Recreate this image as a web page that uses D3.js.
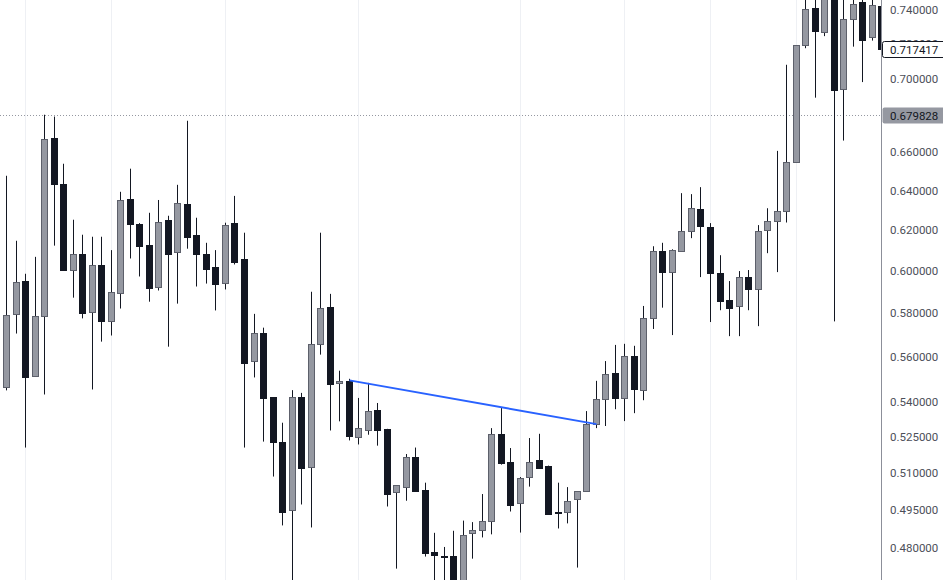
<!DOCTYPE html>
<html>
<head>
<meta charset="utf-8">
<script src="https://cdn.jsdelivr.net/npm/d3@7"></script>
<style>
  html, body { margin: 0; padding: 0; background: #fff; overflow: hidden; }
  svg { display: block; }
  .price-axis text { font-family: Roboto, 'Noto Sans', sans-serif; font-size: 11.5px; fill: #4c4f59; }
  .badge text { font-family: Roboto, 'Noto Sans', sans-serif; font-size: 11.5px; fill: #131722; }
</style>
</head>
<body>
<div class="chart"></div>
<script>
// DATA ------------------------------------**
const opens = [
  0.5463, 0.5794, 0.5951, 0.5512, 0.5783, 0.6677, 0.6435, 0.6003, 0.6081, 0.5803,
  0.6028, 0.5762, 0.5892, 0.6356, 0.6231, 0.6126, 0.5919, 0.6251, 0.6089, 0.6331,
  0.6176, 0.6081, 0.6019, 0.5940, 0.6236, 0.6057, 0.5577, 0.5708, 0.5420, 0.5228,
  0.4947, 0.5420, 0.5125, 0.5658, 0.5828, 0.5479, 0.5491, 0.5248, 0.5278, 0.5364,
  0.5283, 0.5020, 0.5041, 0.5165, 0.5030, 0.4784, 0.4769, 0.4770, 0.4650, 0.4858,
  0.4870, 0.4905, 0.5262, 0.5145, 0.4976, 0.5082, 0.5153, 0.5128, 0.4942, 0.4941,
  0.4993, 0.5025, 0.5304, 0.5410, 0.5526, 0.5415, 0.5601, 0.5450, 0.5775, 0.6094,
  0.5993, 0.6094, 0.6194, 0.6304, 0.6214, 0.5988, 0.5859, 0.5831, 0.5969, 0.5911,
  0.6199, 0.6244, 0.6294, 0.6548, 0.7193, 0.7411, 0.7273, 0.7520, 0.6943, 0.7346,
  0.7446, 0.7240, 0.7424
];
const highs = [
  0.6476, 0.6146, 0.5985, 0.6067, 0.6802, 0.6792, 0.6539, 0.6251, 0.6176, 0.6166,
  0.6166, 0.6100, 0.6393, 0.6513, 0.6234, 0.6286, 0.6351, 0.6271, 0.6429, 0.6769,
  0.6261, 0.6136, 0.6100, 0.6236, 0.6372, 0.6186, 0.5795, 0.5731, 0.5420, 0.5309,
  0.5450, 0.5438, 0.5899, 0.6186, 0.5889, 0.5536, 0.5500, 0.5416, 0.5482, 0.5394,
  0.5283, 0.5049, 0.5177, 0.5204, 0.5059, 0.4859, 0.4804, 0.4867, 0.4907, 0.4901,
  0.5013, 0.5286, 0.5372, 0.5202, 0.5082, 0.5244, 0.5262, 0.5129, 0.5059, 0.5041,
  0.5025, 0.5359, 0.5491, 0.5579, 0.5652, 0.5657, 0.5648, 0.5832, 0.6119, 0.6136,
  0.6104, 0.6386, 0.6381, 0.6417, 0.6234, 0.6075, 0.5950, 0.5998, 0.6003, 0.6224,
  0.6309, 0.6607, 0.7081, 0.7194, 0.7480, 0.7500, 0.7550, 0.7600, 0.7500, 0.7490,
  0.7480, 0.7480, 0.7470
];
const lows = [
  0.5449, 0.5704, 0.5204, 0.5510, 0.5431, 0.6122, 0.6004, 0.5871, 0.5774, 0.5453,
  0.5667, 0.5695, 0.5820, 0.6059, 0.5972, 0.5852, 0.5905, 0.5644, 0.5843, 0.6107,
  0.5924, 0.5938, 0.5811, 0.5910, 0.6030, 0.5204, 0.5506, 0.5229, 0.5084, 0.4888,
  0.4670, 0.4971, 0.4880, 0.5608, 0.5276, 0.5315, 0.5234, 0.5217, 0.5258, 0.5212,
  0.4963, 0.4721, 0.4986, 0.5025, 0.4767, 0.4650, 0.4660, 0.4620, 0.4630, 0.4759,
  0.4841, 0.4853, 0.5133, 0.4943, 0.4860, 0.5043, 0.5120, 0.4934, 0.4876, 0.4896,
  0.4725, 0.5024, 0.5286, 0.5295, 0.5367, 0.5316, 0.5350, 0.5406, 0.5725, 0.5824,
  0.5697, 0.6093, 0.6159, 0.5969, 0.5757, 0.5812, 0.5692, 0.5692, 0.5812, 0.5738,
  0.6085, 0.5993, 0.6237, 0.6547, 0.7176, 0.6896, 0.7246, 0.5760, 0.6662, 0.7185,
  0.6983, 0.7220, 0.7160
];
const closes = [
  0.5789, 0.5945, 0.5510, 0.5785, 0.6670, 0.6436, 0.6006, 0.6080, 0.5801, 0.6027,
  0.5764, 0.5897, 0.6350, 0.6227, 0.6122, 0.5919, 0.6239, 0.6083, 0.6334, 0.6164,
  0.6083, 0.6006, 0.5938, 0.6224, 0.6044, 0.5573, 0.5706, 0.5417, 0.5229, 0.4943,
  0.5419, 0.5121, 0.5657, 0.5822, 0.5479, 0.5490, 0.5255, 0.5286, 0.5359, 0.5280,
  0.5015, 0.5049, 0.5165, 0.5027, 0.4782, 0.4771, 0.4768, 0.4640, 0.4851, 0.4870,
  0.4905, 0.5262, 0.5142, 0.4971, 0.5078, 0.5143, 0.5121, 0.4935, 0.4941, 0.4984,
  0.5025, 0.5304, 0.5410, 0.5521, 0.5417, 0.5601, 0.5453, 0.5775, 0.6094, 0.5993,
  0.6099, 0.6194, 0.6309, 0.6219, 0.5988, 0.5854, 0.5822, 0.5969, 0.5911, 0.6194,
  0.6244, 0.6294, 0.6548, 0.7193, 0.7405, 0.7273, 0.7490, 0.6938, 0.7346, 0.7434,
  0.7220, 0.7428, 0.717417
];

// bars where the vertical grid lines sit
const gridBars = [2, 11, 23, 37, 54, 65, 74, 83];

// price scale tick labels
const priceTicks = [0.48, 0.495, 0.51, 0.525, 0.54, 0.56, 0.58, 0.60, 0.62, 0.64, 0.66, 0.68, 0.70, 0.72, 0.74];

// trend line (bar index, price)
const trendBars = [36, 62];
const trendPrices = [0.5493, 0.5303];

// price labels on the scale
const lastPrice = 0.717417;
const markPrice = 0.679828;


// CHART INIT ------------------------------**
const width = 943;
const height = 580;
const plotWidth = 881;
const step = 9.51;

const svg = d3.select('.chart').append('svg')
    .attr('width', width)
    .attr('height', height);

svg.append('clipPath')
    .attr('id', 'plot-clip')
    .append('rect')
    .attr('x', 0)
    .attr('y', 0)
    .attr('width', plotWidth)
    .attr('height', height);

const bars = d3.range(opens.length);

let xScale = d3.scaleBand()
    .domain(bars)
    .range([1.5, 1.5 + step * bars.length])
    .paddingInner(0.36)
    .paddingOuter(0.18);

let yScale = d3.scaleLog()
    .domain([0.48, 0.74])
    .range([548, 10]);

const bw = xScale.bandwidth();
const cx = i => Math.round(xScale(i) + bw / 2) + 0.5;

const plot = svg.append('g')
    .attr('clip-path', 'url(#plot-clip)');

// vertical grid lines
plot.selectAll('.grid')
    .data(gridBars)
    .enter()
    .append('line')
    .attr('class', 'grid')
    .attr('x1', d => cx(d))
    .attr('x2', d => cx(d))
    .attr('y1', 0)
    .attr('y2', height)
    .attr('stroke', '#eef0f4')
    .attr('stroke-width', 1);

// dotted price line
plot.append('line')
    .attr('x1', 0)
    .attr('x2', plotWidth)
    .attr('y1', Math.round(yScale(markPrice)) + 0.5)
    .attr('y2', Math.round(yScale(markPrice)) + 0.5)
    .attr('stroke', '#9598a1')
    .attr('stroke-width', 1)
    .attr('stroke-dasharray', '1,2');

// CANDLES ---------------------------------**
const candles = plot.selectAll('.candle')
    .data(bars)
    .enter()
    .append('g')
    .attr('class', 'candle');

candles.append('line')
    .attr('x1', d => cx(d))
    .attr('x2', d => cx(d))
    .attr('y1', d => yScale(highs[d]))
    .attr('y2', d => yScale(lows[d]))
    .attr('stroke', '#131722')
    .attr('stroke-width', 1);

candles.append('rect')
    .attr('x', d => cx(d) - 3)
    .attr('y', d => Math.round(yScale(Math.max(opens[d], closes[d]))) + 0.5)
    .attr('width', 6)
    .attr('height', d => Math.max(1, Math.round(Math.abs(yScale(opens[d]) - yScale(closes[d])))))
    .attr('fill', d => closes[d] >= opens[d] ? '#9598a1' : '#131722')
    .attr('stroke', d => closes[d] >= opens[d] ? '#5d606b' : '#131722')
    .attr('stroke-width', 1);

// trend line
plot.append('line')
    .attr('x1', cx(trendBars[0]))
    .attr('y1', yScale(trendPrices[0]))
    .attr('x2', cx(trendBars[1]))
    .attr('y2', yScale(trendPrices[1]))
    .attr('stroke', '#2962ff')
    .attr('stroke-width', 2);

// PRICE SCALE -----------------------------**
let yAxis = d3.axisRight()
    .scale(yScale)
    .tickValues(priceTicks)
    .tickFormat(d3.format('.6f'))
    .tickSize(0)
    .tickPadding(9);

let yAxisGroup = svg.append('g')
    .attr('class', 'price-axis')
    .attr('transform', 'translate(' + plotWidth + ',0)')
    .call(yAxis);

yAxisGroup.select('.domain').remove();
yAxisGroup.selectAll('text').attr('font-family', null).attr('font-size', null);

svg.append('line')
    .attr('x1', plotWidth + 0.5)
    .attr('x2', plotWidth + 0.5)
    .attr('y1', 0)
    .attr('y2', height)
    .attr('stroke', '#8c8f99')
    .attr('stroke-width', 1);

// price badges
function badge(price, fill, stroke) {
    const y = Math.round(yScale(price));
    const g = svg.append('g').attr('class', 'badge');
    g.append('rect')
        .attr('x', plotWidth + 1.5)
        .attr('y', y - 8 + 0.5)
        .attr('width', 64)
        .attr('height', 16)
        .attr('rx', 2)
        .attr('fill', fill)
        .attr('stroke', stroke);
    g.append('text')
        .attr('x', plotWidth + 9)
        .attr('y', y + 0.5)
        .attr('dy', '0.35em')
        .text(d3.format('.6f')(price));
}

badge(markPrice, '#9598a1', 'none');
badge(lastPrice, '#ffffff', '#131722');
</script>
</body>
</html>
